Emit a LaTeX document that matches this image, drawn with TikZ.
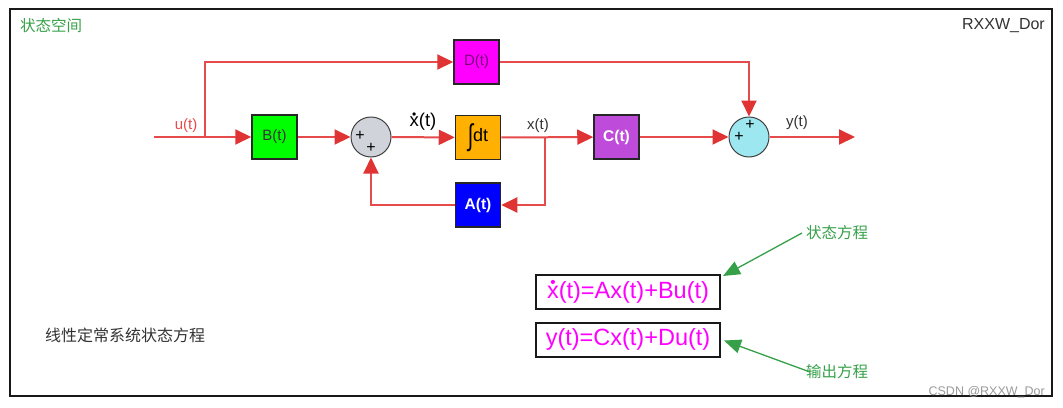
\documentclass[tikz,border=0pt]{standalone}
\usepackage{fontspec}
\setmainfont{Liberation Sans}
\newfontfamily\cjk{Noto Sans CJK SC}
\usetikzlibrary{arrows.meta,calc}
\definecolor{sigred}{HTML}{E54B4B}
\definecolor{tipred}{HTML}{E03333}
\definecolor{fgreen}{HTML}{00FF00}
\definecolor{forange}{HTML}{FFB000}
\definecolor{fmag}{HTML}{FF00FF}
\definecolor{fblue}{HTML}{0000FF}
\definecolor{fpurple}{HTML}{BF4BDB}
\definecolor{fgray}{HTML}{D0D4DA}
\definecolor{fcyan}{HTML}{9DE8F0}
\definecolor{lgreen}{HTML}{35A048}
\definecolor{eqmag}{HTML}{FF00FF}
\definecolor{dmag}{HTML}{780078}
\definecolor{txtgray}{HTML}{333333}
\newcommand{\fs}[1]{\fontsize{#1}{#1}\selectfont}
\newcommand{\xdt}{\leavevmode\ooalign{x\cr\hidewidth\raisebox{0.45em}{\scalebox{0.65}{•}}\hidewidth\cr}}
\begin{document}
\begin{tikzpicture}[x=1pt,y=-1pt,
  blk/.style={draw=black!85, line width=1.5pt, minimum width=45pt, minimum height=44pt, inner sep=0pt, font=\fs{15}},
  sumc/.style={circle, draw=black!75, line width=1pt, minimum size=40pt, inner sep=0pt},
  sig/.style={draw=sigred, line width=2pt, -{Triangle[length=16pt,width=15pt,color=tipred]}},
  pls/.style={font=\fs{16}, inner sep=0pt},
  lab/.style={font=\fs{15}, inner sep=0pt},
  eqbox/.style={draw=black!90, line width=2pt, minimum width=184pt, minimum height=34pt, inner sep=0pt, text=eqmag, font=\fs{23.5}},
  glab/.style={text=lgreen, font=\cjk\fs{15.5}, inner sep=0pt},
  garr/.style={draw=lgreen, line width=1.3pt, -{Triangle[length=17pt,width=14pt]}}
]
\useasboundingbox (0,0) rectangle (1063,407);
\node[draw=black!90, line width=2pt, minimum width=1042pt, minimum height=387pt, inner sep=0pt] (frame) at (531,202.5) {};
\node[glab, anchor=west] (title) at (20,26) {状态空间};
\node[font=\fs{16}, text=txtgray, anchor=east, inner sep=0pt] (author) at (1045,26) {RXXW\_Dor};

% blocks
\node[blk, fill=fgreen, text=black!80] (B) at (274.5,137) {B(t)};
\node[sumc, fill=fgray] (S1) at (371,137) {};
\node[blk, fill=forange, font=\fs{18}] (I) at (478,137.5) {\raisebox{-0.22em}{\scalebox{1.1}[1.65]{∫}}dt};
\node[blk, fill=fmag, text=dmag] (D) at (476.5,62) {D(t)};
\node[blk, fill=fblue, text=white, font=\fs{15.5}\bfseries] (A) at (478,205) {A(t)};
\node[blk, fill=fpurple, text=white, font=\fs{15.5}\bfseries] (C) at (616.5,137) {C(t)};
\node[sumc, fill=fcyan] (S2) at (749,137) {};

% plus signs
\node[pls] (p1) at (360,136) {+};
\node[pls] (p2) at (371,148) {+};
\node[pls] (p3) at (739,137) {+};
\node[pls] (p4) at (750,125) {+};

% coordinates
\coordinate (uin) at (154,137);
\coordinate (ubr) at (205,137);
\coordinate (xbr) at (545,137);
\coordinate (yout) at (855,137);

% connectors
\draw[sig] (uin) -- (B);
\draw[sig] (ubr) |- (D);
\draw[sig] (B) -- (S1);
\draw[sig] (S1) -- (I);
\draw[sig] (I) -- (C);
\draw[sig] (xbr) |- (A);
\draw[sig] (A) -| (S1);
\draw[sig] (C) -- (S2);
\draw[sig] (D) -| (S2);
\draw[sig] (S2) -- (yout);

% signal labels
\node[lab, text=sigred] (lu) at (186,126) {u(t)};
\node[lab, font=\fs{18.5}] (lxd) at (423,122) {\xdt(t)};
\node[lab, text=txtgray] (lx) at (538,126) {x(t)};
\node[lab, text=txtgray] (ly) at (797,123) {y(t)};

% equations
\node[eqbox] (E1) at (628,292) {\xdt(t)=Ax(t)+Bu(t)};
\node[eqbox] (E2) at (628,339.5) {y(t)=Cx(t)+Du(t)};
\node[glab, anchor=west] (L1) at (806,233) {状态方程};
\node[glab, anchor=west] (L2) at (806,372) {输出方程};
\draw[garr] ($(L1.west)+(-4,0)$) -- ($(E1.north east)+(2,2)$);
\draw[garr] ($(L2.west)+(4,0)$) -- ($(E2.east)+(3,1)$);

\node[font=\cjk\fs{16}, text=txtgray, anchor=west, inner sep=0pt] (note) at (45,335) {线性定常系统状态方程};
\node[font=\fs{12.5}, text=black!40, anchor=east, inner sep=0pt] (wm) at (1045,392) {CSDN @RXXW\_Dor};
\end{tikzpicture}
\end{document}
